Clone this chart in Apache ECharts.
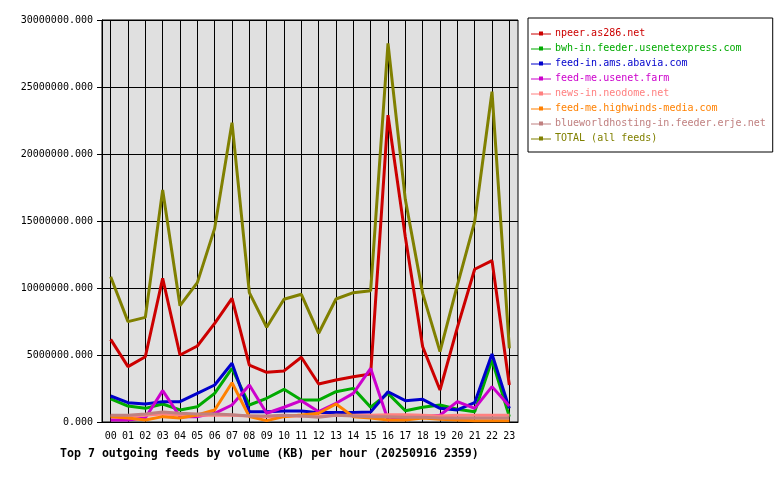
<!DOCTYPE html>
<html>
<head>
<meta charset="utf-8">
<script src="https://cdn.jsdelivr.net/npm/echarts@6/dist/echarts.min.js"></script>
<style>
html,body{margin:0;padding:0;background:#fff;}
#c{width:780px;height:480px;}
</style>
</head>
<body>
<div id="c"></div>
<script>
const hours = ["00","01","02","03","04","05","06","07","08","09","10","11","12","13","14","15","16","17","18","19","20","21","22","23"];
const seriesNames = ["npeer.as286.net","bwh-in.feeder.usenetexpress.com","feed-in.ams.abavia.com","feed-me.usenet.farm","news-in.neodome.net","feed-me.highwinds-media.com","blueworldhosting-in.feeder.erje.net","TOTAL (all feeds)"];
const seriesColors = ["#cc0000","#00aa00","#0000cc","#cc00cc","#ff8080","#ff8000","#c08080","#808000"];

const npeer = [6170000,4130000,4870000,10720000,5000000,5670000,7360000,9230000,4250000,3710000,3810000,4830000,2840000,3130000,3380000,3580000,22900000,13800000,5620000,2390000,7040000,11400000,12040000,2760000];
const bwh = [1720000,1190000,1020000,1340000,900000,1140000,2140000,4000000,1270000,1770000,2440000,1640000,1640000,2260000,2510000,1100000,2140000,840000,1100000,1270000,950000,770000,4630000,400000];
const abavia = [1940000,1440000,1340000,1520000,1520000,2140000,2760000,4380000,770000,770000,820000,820000,700000,700000,700000,750000,2260000,1590000,1690000,1020000,900000,1440000,5070000,1020000];
const usenetFarm = [150000,150000,300000,2340000,400000,400000,650000,1270000,2760000,650000,1100000,1590000,770000,1400000,2140000,4000000,150000,300000,400000,500000,1520000,1020000,2640000,1190000];
const neodome = [450000,450000,500000,600000,550000,500000,500000,500000,450000,400000,450000,450000,450000,500000,500000,500000,550000,550000,500000,450000,500000,500000,500000,500000];
const highwinds = [400000,300000,150000,400000,300000,520000,900000,2930000,400000,100000,400000,520000,650000,1340000,400000,300000,150000,150000,300000,200000,150000,100000,100000,100000];
const erje = [500000,500000,600000,750000,650000,600000,600000,550000,450000,450000,500000,450000,350000,500000,450000,400000,400000,350000,350000,300000,300000,300000,300000,300000];
const total = [10840000,7490000,7810000,17310000,8680000,10400000,14450000,22340000,9650000,7070000,9160000,9530000,6620000,9180000,9650000,9800000,28260000,16600000,9600000,5250000,10200000,14950000,24650000,5500000];
const yTicks = [0,5000000,10000000,15000000,20000000,25000000,30000000];

const allData = [npeer,bwh,abavia,usenetFarm,neodome,highwinds,erje,total];
const FONT = "DejaVu Sans Mono";

const chart = echarts.init(document.getElementById('c'), null, {renderer:'canvas'});
chart.setOption({
  animation:false,
  backgroundColor:'#ffffff',
  title:{
    text:'Top 7 outgoing feeds by volume (KB) per hour (20250916 2359)',
    left:55, top:443,
    textStyle:{fontFamily:FONT,fontSize:11.6,fontWeight:'bold',color:'#000'}
  },
  legend:{
    orient:'vertical',
    left:528, top:18,
    padding:[8,7,6,3],
    itemGap:0,
    itemWidth:20, itemHeight:7,
    backgroundColor:'#ffffff',
    borderColor:'#000', borderWidth:1,
    icon:'path://M0,3L20,3L20,4L0,4Z M8,1L12,1L12,5L8,5Z',
    data: seriesNames.map((n,i)=>({name:n,textStyle:{color:seriesColors[i]}})),
    textStyle:{fontFamily:FONT,fontSize:10,lineHeight:15,padding:[0,0,0,-1]}
  },
  grid:{left:102,right:262,top:20,bottom:58,show:true,backgroundColor:'#e0e0e0',borderColor:'#000',borderWidth:1},
  xAxis:{
    type:'category',
    data:hours,
    boundaryGap:true,
    axisLine:{lineStyle:{color:'#000',width:1}},
    axisTick:{alignWithLabel:true,length:4,lineStyle:{color:'#000'}},
    axisLabel:{fontFamily:FONT,fontSize:10,color:'#000',margin:9,interval:0},
    splitLine:{show:true,alignWithLabel:true,interval:0,lineStyle:{color:'#000',width:1}}
  },
  yAxis:{
    type:'value',
    min:yTicks[0], max:yTicks[yTicks.length-1], interval:5000000,
    axisLine:{show:true,lineStyle:{color:'#000',width:1}},
    axisTick:{show:true,length:5,lineStyle:{color:'#000'}},
    axisLabel:{fontFamily:FONT,fontSize:10,color:'#000',margin:9,formatter:v=>v.toFixed(3)},
    splitLine:{show:true,lineStyle:{color:'#000',width:1}}
  },
  series: seriesNames.map((n,i)=>({
    name:n,
    type:'line',
    data:allData[i],
    color:seriesColors[i],
    showSymbol:false,
    symbol:'none',
    lineStyle:{width:3,color:seriesColors[i]},
    z:2+i
  }))
});
</script>
</body>
</html>
